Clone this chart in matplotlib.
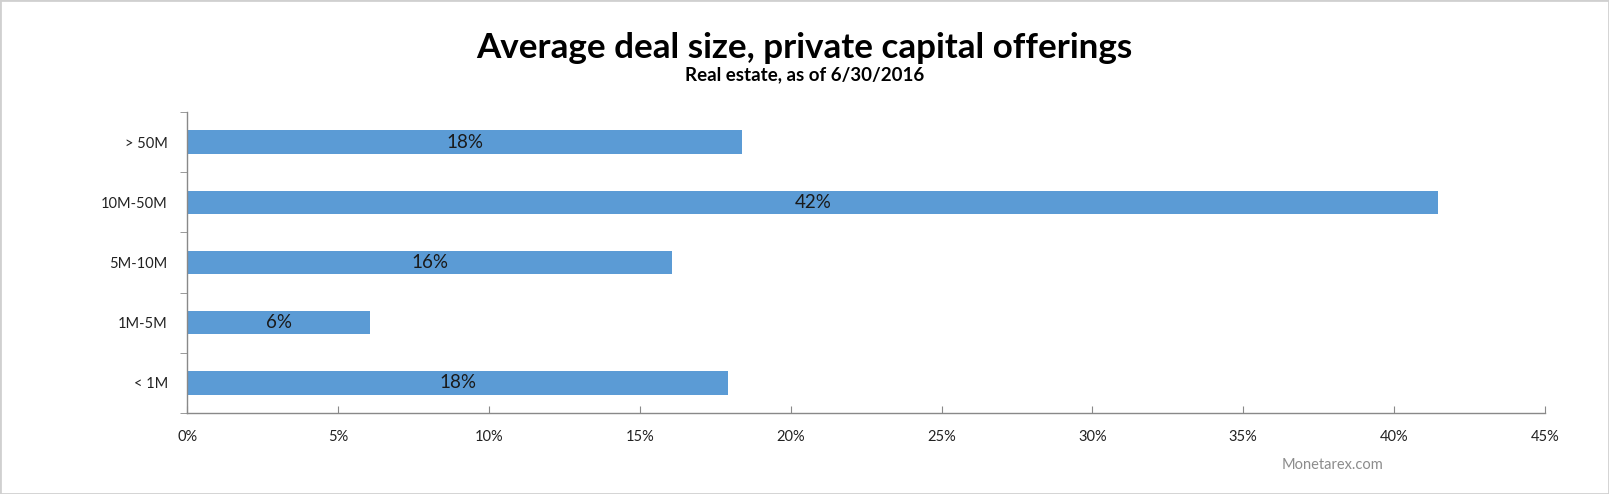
import matplotlib
matplotlib.use("Agg")
import matplotlib.pyplot as plt
from matplotlib.patches import Rectangle
from matplotlib.ticker import FuncFormatter

categories = ["< 1M", "1M-5M", "5M-10M", "10M-50M", "> 50M"]
shares = [17.93, 6.05, 16.07, 41.46, 18.38]
bar_labels = ["18%", "6%", "16%", "42%", "18%"]

plt.rcParams['font.family'] = ['Lato', 'DejaVu Sans']

fig = plt.figure(figsize=(16.09, 4.94), dpi=100)
ax = fig.add_axes([0.1164, 0.164, 0.8438, 0.6093])

ypos = list(range(len(categories)))
ax.barh(ypos, shares, height=0.39, color="#5B9BD5")
for y, v, lab in zip(ypos, shares, bar_labels):
    ax.text(v / 2, y, lab, ha="center", va="center", fontsize=13.5, color="#1a1a1a")

ax.set_xlim(0, 45)
ax.set_ylim(-0.5, 4.5)
ax.set_xticks(range(0, 46, 5))
ax.xaxis.set_major_formatter(FuncFormatter(lambda v, p: f"{int(v)}%"))
ax.set_yticks(ypos)
ax.set_yticklabels(categories)
ax.set_yticks([i - 0.5 for i in range(len(categories) + 1)], minor=True)

axis_col = "#898989"
for side in ["top", "right"]:
    ax.spines[side].set_visible(False)
for side in ["left", "bottom"]:
    ax.spines[side].set_color(axis_col)
    ax.spines[side].set_linewidth(1)

ax.tick_params(axis="y", which="major", length=0, pad=14, labelsize=10.5, labelcolor="#222222")
ax.tick_params(axis="y", which="minor", length=5, color=axis_col, direction="out")
ax.tick_params(axis="x", which="major", length=5, color=axis_col, direction="in",
               pad=12, labelsize=10.5, labelcolor="#222222")

fig.text(0.5, 0.902, "Average deal size, private capital offerings", ha="center", va="center",
         fontsize=25.2, fontweight="bold", color="black")
fig.text(0.5, 0.848, "Real estate, as of 6/30/2016", ha="center", va="center",
         fontsize=13.5, fontweight="bold", color="black")
fig.text(0.828, 0.059, "Monetarex.com", ha="center", va="center",
         fontsize=10.5, color="#8c8c8c")

fig.patches.append(Rectangle((0, 0), 1, 1, transform=fig.transFigure, fill=False,
                             edgecolor="#d0d0d0", linewidth=2))

fig.savefig("out.png", dpi=100)
